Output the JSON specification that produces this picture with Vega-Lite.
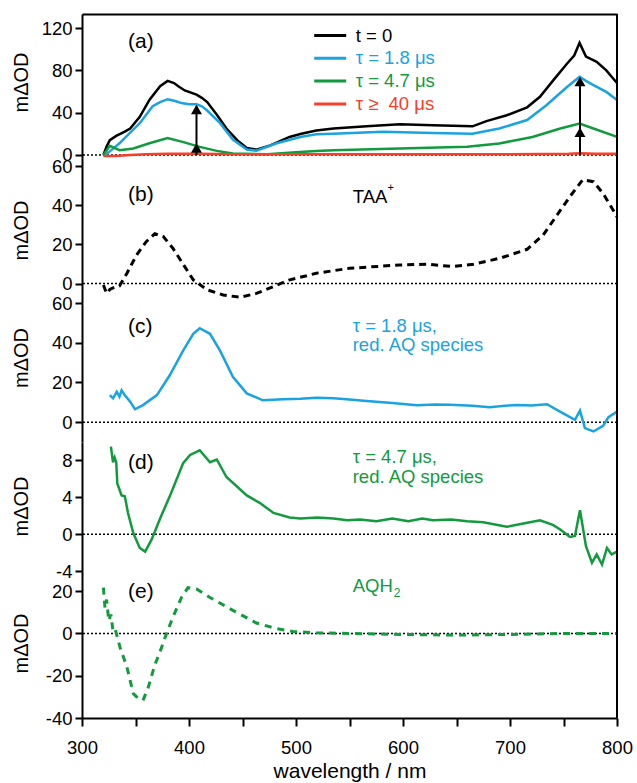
{
  "$schema": "https://vega.github.io/schema/vega-lite/v6.json",
  "padding": {"left": 11, "top": 13, "right": 10, "bottom": 2},
  "spacing": 0,
  "bounds": "flush",
  "config": {
    "view": {"stroke": null},
    "axis": {"labelFont": "Liberation Sans", "labelFontSize": 18.5, "titleFont": "Liberation Sans", "titleFontSize": 20, "titleFontWeight": "normal", "domainColor": "#000", "domainWidth": 2, "tickColor": "#000", "tickWidth": 2, "labelColor": "#000", "titleColor": "#000", "grid": false, "labelFlush": false, "labelOverlap": false, "labelBound": false},
    "text": {"font": "Liberation Sans"}
  },
  "resolve": {"scale": {"color": "independent"}, "legend": {"color": "independent"}},
  "datasets": {
    "a": [
      {"s":"t = 0","x":320,"y":0},{"s":"t = 0","x":323,"y":8},{"s":"t = 0","x":326,"y":14},{"s":"t = 0","x":332,"y":18},{"s":"t = 0","x":340,"y":22},{"s":"t = 0","x":345,"y":25},{"s":"t = 0","x":354,"y":36},{"s":"t = 0","x":363,"y":52},{"s":"t = 0","x":373,"y":65},{"s":"t = 0","x":380,"y":70},{"s":"t = 0","x":386,"y":68},{"s":"t = 0","x":390,"y":65},{"s":"t = 0","x":396,"y":61},{"s":"t = 0","x":407,"y":57},{"s":"t = 0","x":412,"y":54},{"s":"t = 0","x":417,"y":50},{"s":"t = 0","x":426,"y":38},{"s":"t = 0","x":435,"y":25},{"s":"t = 0","x":445,"y":14},{"s":"t = 0","x":454,"y":6.5},{"s":"t = 0","x":463,"y":5},{"s":"t = 0","x":476,"y":9},{"s":"t = 0","x":494,"y":17},{"s":"t = 0","x":505,"y":20},{"s":"t = 0","x":519,"y":23},{"s":"t = 0","x":535,"y":25},{"s":"t = 0","x":566,"y":27},{"s":"t = 0","x":597,"y":29},{"s":"t = 0","x":628,"y":28},{"s":"t = 0","x":665,"y":27},{"s":"t = 0","x":678,"y":32},{"s":"t = 0","x":697,"y":37.5},{"s":"t = 0","x":716,"y":45},{"s":"t = 0","x":728,"y":55},{"s":"t = 0","x":740,"y":70},{"s":"t = 0","x":753,"y":86},{"s":"t = 0","x":760,"y":94},{"s":"t = 0","x":765,"y":106},{"s":"t = 0","x":771,"y":93},{"s":"t = 0","x":781,"y":88},{"s":"t = 0","x":790,"y":80},{"s":"t = 0","x":795,"y":74},{"s":"t = 0","x":800,"y":68},
      {"s":"τ = 1.8 μs","x":322,"y":0},{"s":"τ = 1.8 μs","x":328,"y":5},{"s":"τ = 1.8 μs","x":335,"y":11},{"s":"τ = 1.8 μs","x":345,"y":21},{"s":"τ = 1.8 μs","x":354,"y":30},{"s":"τ = 1.8 μs","x":366,"y":46},{"s":"τ = 1.8 μs","x":373,"y":50},{"s":"τ = 1.8 μs","x":380,"y":52.7},{"s":"τ = 1.8 μs","x":387,"y":51},{"s":"τ = 1.8 μs","x":393,"y":49},{"s":"τ = 1.8 μs","x":400,"y":48},{"s":"τ = 1.8 μs","x":407,"y":48},{"s":"τ = 1.8 μs","x":412,"y":46},{"s":"τ = 1.8 μs","x":417,"y":42},{"s":"τ = 1.8 μs","x":429,"y":30},{"s":"τ = 1.8 μs","x":441,"y":14.6},{"s":"τ = 1.8 μs","x":454,"y":5},{"s":"τ = 1.8 μs","x":463,"y":4},{"s":"τ = 1.8 μs","x":482,"y":11},{"s":"τ = 1.8 μs","x":504,"y":17},{"s":"τ = 1.8 μs","x":519,"y":19.6},{"s":"τ = 1.8 μs","x":535,"y":20},{"s":"τ = 1.8 μs","x":581,"y":21.8},{"s":"τ = 1.8 μs","x":628,"y":20.8},{"s":"τ = 1.8 μs","x":665,"y":20},{"s":"τ = 1.8 μs","x":690,"y":25},{"s":"τ = 1.8 μs","x":716,"y":33},{"s":"τ = 1.8 μs","x":734,"y":47},{"s":"τ = 1.8 μs","x":753,"y":64},{"s":"τ = 1.8 μs","x":765,"y":74},{"s":"τ = 1.8 μs","x":771,"y":70},{"s":"τ = 1.8 μs","x":778,"y":66},{"s":"τ = 1.8 μs","x":790,"y":59.6},{"s":"τ = 1.8 μs","x":800,"y":52},
      {"s":"τ = 4.7 μs","x":320,"y":0},{"s":"τ = 4.7 μs","x":326,"y":8.5},{"s":"τ = 4.7 μs","x":335,"y":4.4},{"s":"τ = 4.7 μs","x":348,"y":6},{"s":"τ = 4.7 μs","x":363,"y":11},{"s":"τ = 4.7 μs","x":380,"y":16},{"s":"τ = 4.7 μs","x":394,"y":12.3},{"s":"τ = 4.7 μs","x":410,"y":7.6},{"s":"τ = 4.7 μs","x":426,"y":3.8},{"s":"τ = 4.7 μs","x":441,"y":1.3},{"s":"τ = 4.7 μs","x":473,"y":0.6},{"s":"τ = 4.7 μs","x":500,"y":2.5},{"s":"τ = 4.7 μs","x":519,"y":3.8},{"s":"τ = 4.7 μs","x":535,"y":4.4},{"s":"τ = 4.7 μs","x":597,"y":6},{"s":"τ = 4.7 μs","x":660,"y":7.6},{"s":"τ = 4.7 μs","x":690,"y":10.8},{"s":"τ = 4.7 μs","x":721,"y":17},{"s":"τ = 4.7 μs","x":747,"y":25},{"s":"τ = 4.7 μs","x":765,"y":29.7},{"s":"τ = 4.7 μs","x":778,"y":25},{"s":"τ = 4.7 μs","x":800,"y":17},
      {"s":"τ ≥\u00a0 40 μs","x":320,"y":-1},{"s":"τ ≥\u00a0 40 μs","x":332,"y":-1},{"s":"τ ≥\u00a0 40 μs","x":345,"y":0},{"s":"τ ≥\u00a0 40 μs","x":360,"y":0.5},{"s":"τ ≥\u00a0 40 μs","x":380,"y":1},{"s":"τ ≥\u00a0 40 μs","x":410,"y":1},{"s":"τ ≥\u00a0 40 μs","x":440,"y":0.6},{"s":"τ ≥\u00a0 40 μs","x":500,"y":0.5},{"s":"τ ≥\u00a0 40 μs","x":560,"y":0.6},{"s":"τ ≥\u00a0 40 μs","x":620,"y":0.5},{"s":"τ ≥\u00a0 40 μs","x":680,"y":0.6},{"s":"τ ≥\u00a0 40 μs","x":730,"y":0.8},{"s":"τ ≥\u00a0 40 μs","x":755,"y":1},{"s":"τ ≥\u00a0 40 μs","x":765,"y":1.5},{"s":"τ ≥\u00a0 40 μs","x":780,"y":1},{"s":"τ ≥\u00a0 40 μs","x":800,"y":1}
    ],
    "b": [
      {"x":320,"y":-0.7},{"x":323,"y":-5},{"x":326,"y":-3},{"x":329,"y":-2.2},{"x":335,"y":-1.2},{"x":342,"y":5.3},{"x":351,"y":14.6},{"x":360,"y":21.4},{"x":368,"y":25.4},{"x":376,"y":24},{"x":385,"y":18},{"x":395,"y":9.5},{"x":404,"y":1.9},{"x":417,"y":-3.2},{"x":432,"y":-5.8},{"x":448,"y":-7},{"x":463,"y":-5},{"x":479,"y":-1.5},{"x":494,"y":1.9},{"x":510,"y":4},{"x":519,"y":5.3},{"x":550,"y":7.8},{"x":597,"y":9.5},{"x":622,"y":9.9},{"x":647,"y":8.7},{"x":666,"y":9.9},{"x":691,"y":13},{"x":716,"y":17.5},{"x":731,"y":24.8},{"x":744,"y":35},{"x":756,"y":44.4},{"x":768,"y":53},{"x":778,"y":52},{"x":787,"y":46},{"x":798,"y":36},{"x":800,"y":34}
    ],
    "c": [
      {"x":326,"y":13.6},{"x":329,"y":12},{"x":332.5,"y":15.3},{"x":335,"y":12.8},{"x":337,"y":16},{"x":340,"y":13.6},{"x":345,"y":10.3},{"x":349.5,"y":6.5},{"x":357,"y":8.6},{"x":370,"y":13.6},{"x":382,"y":23.6},{"x":394.5,"y":36},{"x":404,"y":44.5},{"x":410,"y":47.3},{"x":419.6,"y":44.5},{"x":429,"y":36},{"x":441,"y":22.8},{"x":454,"y":14.5},{"x":469,"y":11},{"x":488,"y":11.5},{"x":504,"y":11.8},{"x":519,"y":12.3},{"x":535,"y":12},{"x":550,"y":11.4},{"x":566,"y":10.6},{"x":590,"y":9.6},{"x":613,"y":8.5},{"x":630,"y":8.9},{"x":644,"y":8.8},{"x":665,"y":8.2},{"x":681,"y":7.5},{"x":695,"y":8.3},{"x":706.5,"y":8.6},{"x":720,"y":8.4},{"x":734.6,"y":9},{"x":746.7,"y":5.3},{"x":760.7,"y":1.2},{"x":765.4,"y":5.8},{"x":770,"y":-3},{"x":778,"y":-4.7},{"x":787,"y":-1.9},{"x":792,"y":2.5},{"x":800,"y":5.3}
    ],
    "d": [
      {"x":327,"y":9.5},{"x":329,"y":7.8},{"x":330.5,"y":8.3},{"x":332,"y":7.8},{"x":333,"y":5.5},{"x":337,"y":4.2},{"x":340,"y":4.1},{"x":343,"y":2.3},{"x":348,"y":0.1},{"x":354,"y":-1.5},{"x":359,"y":-1.9},{"x":365,"y":-0.6},{"x":373,"y":1.7},{"x":382,"y":4.1},{"x":394.5,"y":7.7},{"x":401,"y":8.6},{"x":410,"y":9.1},{"x":419.6,"y":7.8},{"x":426,"y":8.1},{"x":435,"y":6.2},{"x":454,"y":4.2},{"x":466,"y":3.4},{"x":479,"y":2.3},{"x":494,"y":1.8},{"x":504,"y":1.7},{"x":520,"y":1.8},{"x":535,"y":1.7},{"x":548,"y":1.5},{"x":560,"y":1.6},{"x":575,"y":1.4},{"x":590,"y":1.7},{"x":605,"y":1.4},{"x":618,"y":1.7},{"x":628,"y":1.5},{"x":645,"y":1.6},{"x":660,"y":1.4},{"x":675,"y":1.3},{"x":697,"y":0.8},{"x":715,"y":1.2},{"x":728,"y":1.5},{"x":740,"y":1},{"x":747,"y":0.5},{"x":756,"y":-0.3},{"x":760.7,"y":-0.2},{"x":765.4,"y":2.6},{"x":771,"y":-1.3},{"x":776.6,"y":-3.1},{"x":781,"y":-2.2},{"x":786,"y":-3.3},{"x":790.6,"y":-1.5},{"x":795,"y":-2.2},{"x":800,"y":-1.9}
    ],
    "e": [
      {"x":320,"y":21.6},{"x":321.5,"y":12},{"x":323,"y":16},{"x":325,"y":6},{"x":327,"y":9},{"x":329,"y":1},{"x":331,"y":2},{"x":335.5,"y":-6.5},{"x":342,"y":-16},{"x":348,"y":-28.5},{"x":351,"y":-30},{"x":357,"y":-31.7},{"x":362,"y":-25.4},{"x":368,"y":-15},{"x":374.5,"y":-6.5},{"x":379,"y":0},{"x":385,"y":7.7},{"x":393,"y":17},{"x":399,"y":21.6},{"x":407,"y":21},{"x":419.6,"y":17},{"x":441,"y":10.9},{"x":463,"y":4.9},{"x":482,"y":2.2},{"x":497,"y":0.9},{"x":519,"y":0.3},{"x":550,"y":0},{"x":600,"y":-0.5},{"x":650,"y":-0.8},{"x":700,"y":-0.5},{"x":750,"y":0},{"x":800,"y":0}
    ],
    "arrows": [{"x":407,"y":0,"y2":46},{"x":765.4,"y":0,"y2":72}],
    "heads": [{"x":407,"y":43},{"x":407,"y":6.5},{"x":765.4,"y":69.5},{"x":765.4,"y":21.5}]
  },
  "vconcat": [
    {
      "width": 535, "height": 152,
      "layer": [
        {"data": {"values": [{}]}, "mark": {"type": "rule", "strokeDash": [2, 2], "strokeWidth": 1.5, "color": "#000"}, "encoding": {"y": {"datum": 0, "type": "quantitative"}}},
        {"data": {"name": "a"}, "mark": {"type": "line", "strokeWidth": 2.5},
          "encoding": {
            "x": {"field": "x", "type": "quantitative", "scale": {"domain": [300, 800], "nice": false, "zero": false}, "axis": {"orient": "top", "labels": false, "ticks": false, "title": null}},
            "y": {"field": "y", "type": "quantitative", "scale": {"domain": [-10.5, 133.3], "nice": false, "zero": false}, "axis": {"title": "mΔOD", "values": [0, 20, 40, 60, 80, 100, 120], "labelExpr": "datum.value % 40 === 0 ? '' + datum.value : ''", "tickSize": {"condition": {"test": "datum.value % 40 === 0", "value": 7}, "value": 4}, "labelPadding": 3, "titleX": -51, "titleY": 68}},
            "color": {"field": "s", "type": "nominal", "scale": {"domain": ["t = 0", "τ = 1.8 μs", "τ = 4.7 μs", "τ ≥\u00a0 40 μs"], "range": ["#000000", "#1AA3E1", "#129A3E", "#F5402C"]},
              "legend": {"orient": "none", "legendX": 236.7, "legendY": 10, "title": null, "symbolType": "M-1.6,0H1.6", "symbolSize": 400, "symbolStrokeWidth": 3, "labelFontSize": 18.5, "labelFont": "Liberation Sans", "labelOffset": 14, "rowPadding": 1.8, "padding": 0, "labelLimit": 300,
                "encode": {"labels": {"update": {"fill": {"signal": "datum.label === 'τ = 1.8 μs' ? '#1AA3E1' : datum.label === 'τ = 4.7 μs' ? '#129A3E' : datum.label === 't = 0' ? '#000000' : '#F5402C'"}}}}}
          }}},
        {"data": {"name": "arrows"}, "mark": {"type": "rule", "strokeWidth": 2, "color": "#000"}, "encoding": {"x": {"field": "x", "type": "quantitative"}, "y": {"field": "y", "type": "quantitative"}, "y2": {"field": "y2"}}},
        {"data": {"name": "heads"}, "mark": {"type": "point", "shape": "triangle-up", "filled": true, "color": "#000", "size": 120, "opacity": 1}, "encoding": {"x": {"field": "x", "type": "quantitative"}, "y": {"field": "y", "type": "quantitative"}}},
        {"data": {"values": [{}]}, "mark": {"type": "text", "align": "left", "baseline": "middle", "fontSize": 21, "color": "#000"}, "encoding": {"x": {"datum": 343}, "y": {"datum": 106.6}, "text": {"value": "(a)"}}},
        {"data": {"values": [{}]}, "mark": {"type": "rule", "strokeWidth": 2, "color": "#000"}, "encoding": {"x": {"datum": 800}}}
      ]
    },
    {
      "width": 535, "height": 137,
      "layer": [
        {"data": {"values": [{}]}, "mark": {"type": "rule", "strokeDash": [2, 2], "strokeWidth": 1.5, "color": "#000"}, "encoding": {"y": {"datum": 0, "type": "quantitative"}}},
        {"data": {"name": "b"}, "mark": {"type": "line", "strokeWidth": 3, "strokeDash": [7, 5], "color": "#000"},
          "encoding": {
            "x": {"field": "x", "type": "quantitative", "scale": {"domain": [300, 800], "nice": false, "zero": false}, "axis": null},
            "y": {"field": "y", "type": "quantitative", "scale": {"domain": [-9.9, 60], "nice": false, "zero": false}, "axis": {"title": "mΔOD", "values": [0, 10, 20, 30, 40, 50, 60], "labelExpr": "datum.value % 20 === 0 ? '' + datum.value : ''", "tickSize": {"condition": {"test": "datum.value % 20 === 0", "value": 7}, "value": 4}, "labelPadding": 3, "titleX": -51, "titleY": 64}}
          }},
        {"data": {"values": [{}]}, "mark": {"type": "text", "align": "left", "baseline": "middle", "fontSize": 21, "color": "#000"}, "encoding": {"x": {"datum": 343}, "y": {"datum": 45.3}, "text": {"value": "(b)"}}},
        {"data": {"values": [{}]}, "mark": {"type": "text", "align": "left", "baseline": "middle", "fontSize": 18.5, "color": "#000"}, "encoding": {"x": {"datum": 553}, "y": {"datum": 44.1}, "text": {"value": "TAA"}}},
        {"data": {"values": [{}]}, "mark": {"type": "text", "align": "left", "baseline": "middle", "fontSize": 11, "color": "#000"}, "encoding": {"x": {"datum": 585.4}, "y": {"datum": 48.7}, "text": {"value": "+"}}},
        {"data": {"values": [{}]}, "mark": {"type": "rule", "strokeWidth": 2, "color": "#000"}, "encoding": {"x": {"datum": 800}}}
      ]
    },
    {
      "width": 535, "height": 139,
      "layer": [
        {"data": {"values": [{}]}, "mark": {"type": "rule", "strokeDash": [2, 2], "strokeWidth": 1.5, "color": "#000"}, "encoding": {"y": {"datum": 0, "type": "quantitative"}}},
        {"data": {"name": "c"}, "mark": {"type": "line", "strokeWidth": 2.5, "color": "#1AA3E1"},
          "encoding": {
            "x": {"field": "x", "type": "quantitative", "scale": {"domain": [300, 800], "nice": false, "zero": false}, "axis": null},
            "y": {"field": "y", "type": "quantitative", "scale": {"domain": [-10, 60], "nice": false, "zero": false}, "axis": {"title": "mΔOD", "values": [0, 10, 20, 30, 40, 50, 60], "labelExpr": "datum.value % 20 === 0 ? '' + datum.value : ''", "tickSize": {"condition": {"test": "datum.value % 20 === 0", "value": 7}, "value": 4}, "labelPadding": 3, "titleX": -51, "titleY": 54.5}}
          }},
        {"data": {"values": [{}]}, "mark": {"type": "text", "align": "left", "baseline": "middle", "fontSize": 21, "color": "#000"}, "encoding": {"x": {"datum": 343}, "y": {"datum": 47.8}, "text": {"value": "(c)"}}},
        {"data": {"values": [{}]}, "mark": {"type": "text", "align": "left", "baseline": "middle", "fontSize": 18.5, "color": "#1AA3E1"}, "encoding": {"x": {"datum": 553}, "y": {"datum": 48.6}, "text": {"value": "τ = 1.8 μs,"}}},
        {"data": {"values": [{}]}, "mark": {"type": "text", "align": "left", "baseline": "middle", "fontSize": 18.5, "color": "#1AA3E1"}, "encoding": {"x": {"datum": 553}, "y": {"datum": 38.6}, "text": {"value": "red. AQ species"}}},
        {"data": {"values": [{}]}, "mark": {"type": "rule", "strokeWidth": 2, "color": "#000"}, "encoding": {"x": {"datum": 800}}}
      ]
    },
    {
      "width": 535, "height": 129,
      "layer": [
        {"data": {"values": [{}]}, "mark": {"type": "rule", "strokeDash": [2, 2], "strokeWidth": 1.5, "color": "#000"}, "encoding": {"y": {"datum": 0, "type": "quantitative"}}},
        {"data": {"name": "d"}, "mark": {"type": "line", "strokeWidth": 2.5, "color": "#129A3E"},
          "encoding": {
            "x": {"field": "x", "type": "quantitative", "scale": {"domain": [300, 800], "nice": false, "zero": false}, "axis": null},
            "y": {"field": "y", "type": "quantitative", "scale": {"domain": [-4, 10], "nice": false, "zero": false}, "axis": {"title": "mΔOD", "values": [-4, -2, 0, 2, 4, 6, 8, 10], "labelExpr": "datum.value % 4 === 0 ? '' + datum.value : ''", "tickSize": {"condition": {"test": "datum.value % 4 === 0", "value": 7}, "value": 4}, "labelPadding": 3, "titleX": -51, "titleY": 64}}
          }},
        {"data": {"values": [{}]}, "mark": {"type": "text", "align": "left", "baseline": "middle", "fontSize": 21, "color": "#000"}, "encoding": {"x": {"datum": 343}, "y": {"datum": 7.7}, "text": {"value": "(d)"}}},
        {"data": {"values": [{}]}, "mark": {"type": "text", "align": "left", "baseline": "middle", "fontSize": 18.5, "color": "#129A3E"}, "encoding": {"x": {"datum": 553}, "y": {"datum": 8.4}, "text": {"value": "τ = 4.7 μs,"}}},
        {"data": {"values": [{}]}, "mark": {"type": "text", "align": "left", "baseline": "middle", "fontSize": 18.5, "color": "#129A3E"}, "encoding": {"x": {"datum": 553}, "y": {"datum": 6.2}, "text": {"value": "red. AQ species"}}},
        {"data": {"values": [{}]}, "mark": {"type": "rule", "strokeWidth": 2, "color": "#000"}, "encoding": {"x": {"datum": 800}}}
      ]
    },
    {
      "width": 535, "height": 147,
      "layer": [
        {"data": {"values": [{}]}, "mark": {"type": "rule", "strokeDash": [2, 2], "strokeWidth": 1.5, "color": "#000"}, "encoding": {"y": {"datum": 0, "type": "quantitative"}}},
        {"data": {"name": "e"}, "mark": {"type": "line", "strokeWidth": 3, "strokeDash": [7, 6], "color": "#129A3E"},
          "encoding": {
            "x": {"field": "x", "type": "quantitative", "scale": {"domain": [300, 800], "nice": false, "zero": false}, "axis": {"title": "wavelength / nm", "titleFontSize": 21, "values": [300, 350, 400, 450, 500, 550, 600, 650, 700, 750, 800], "labelExpr": "datum.value % 100 === 0 ? '' + datum.value : ''", "tickSize": 8, "labelPadding": 12, "titlePadding": 4}},
            "y": {"field": "y", "type": "quantitative", "scale": {"domain": [-40, 29.5], "nice": false, "zero": false}, "axis": {"title": "mΔOD", "values": [-40, -30, -20, -10, 0, 10, 20], "labelExpr": "datum.value % 20 === 0 ? '' + datum.value : ''", "tickSize": {"condition": {"test": "datum.value % 20 === 0", "value": 7}, "value": 4}, "labelPadding": 3, "titleX": -51, "titleY": 72}}
          }},
        {"data": {"values": [{}]}, "mark": {"type": "text", "align": "left", "baseline": "middle", "fontSize": 21, "color": "#000"}, "encoding": {"x": {"datum": 343}, "y": {"datum": 19.5}, "text": {"value": "(e)"}}},
        {"data": {"values": [{}]}, "mark": {"type": "text", "align": "left", "baseline": "middle", "fontSize": 18.5, "color": "#129A3E"}, "encoding": {"x": {"datum": 553}, "y": {"datum": 22.2}, "text": {"value": "AQH"}}},
        {"data": {"values": [{}]}, "mark": {"type": "text", "align": "left", "baseline": "middle", "fontSize": 12, "color": "#129A3E"}, "encoding": {"x": {"datum": 591.3}, "y": {"datum": 19}, "text": {"value": "2"}}},
        {"data": {"values": [{}]}, "mark": {"type": "rule", "strokeWidth": 2, "color": "#000"}, "encoding": {"x": {"datum": 800}}}
      ]
    }
  ]
}
